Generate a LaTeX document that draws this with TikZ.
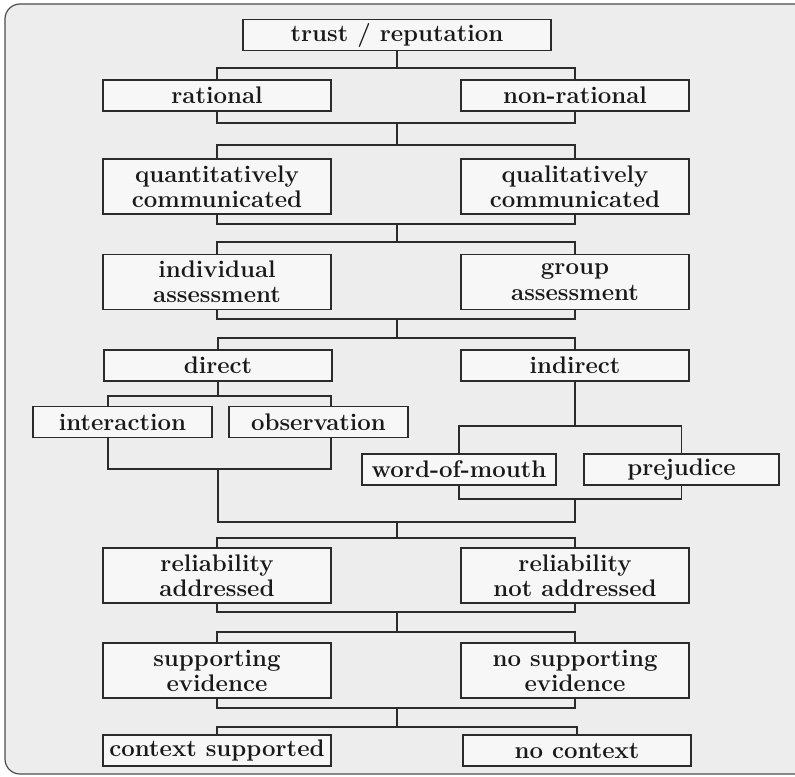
\documentclass[tikz,border=0pt]{standalone}
\usepackage{tikz}
\usetikzlibrary{positioning}

\definecolor{panelbg}{HTML}{EDEDED}
\definecolor{boxbg}{HTML}{F7F7F7}
\definecolor{linecol}{HTML}{2B2B2B}

\begin{document}
\begin{tikzpicture}[
  x=0.5pt, y=-0.5pt,
  category/.style={
    draw=linecol,
    fill=boxbg,
    line width=0.6pt,
    minimum width=114pt,
    minimum height=15.5pt,
    inner sep=0pt,
    align=center,
    text=black!90,
    font=\fontsize{12}{12.6}\selectfont\bfseries
  },
  twoline/.style={category,minimum height=27.5pt},
  leaf/.style={category,minimum width=89.5pt},
  link/.style={draw=linecol,line width=0.6pt}
]
  \useasboundingbox (0,0) rectangle (795,776);
  \begin{scope}
    \clip (0,0) rectangle (795,776);
    \draw[fill=panelbg,draw=black!70,line width=0.6pt,rounded corners=7.5pt]
      (5,4) rectangle (812,774);
  \end{scope}

  % levels
  \node[category,minimum width=154pt] (trust) at (397,35) {trust / reputation};
  \node[category] (rational) at (217,95.5) {rational};
  \node[category] (nonrational) at (575,95.5) {non-rational};

  \node[twoline] (quant) at (217,186.5) {quantitatively\\communicated};
  \node[twoline] (qual) at (575,186.5) {qualitatively\\communicated};

  \node[twoline] (individual) at (217,282) {individual\\assessment};
  \node[twoline] (group) at (575,282) {group\\assessment};

  \node[category] (direct) at (218,365.5) {direct};
  \node[category] (indirect) at (575,365.5) {indirect};

  \node[leaf] (interaction) at (122.5,422) {interaction};
  \node[leaf] (observation) at (318.5,422) {observation};
  \node[category,minimum width=97pt] (wordofmouth) at (459,469.5) {word-of-mouth};
  \node[category,minimum width=97.5pt] (prejudice) at (681.5,469.5) {prejudice};

  \node[twoline] (reladdr) at (217,575.5) {reliability\\addressed};
  \node[twoline] (relnot) at (575,575.5) {reliability\\not addressed};

  \node[twoline] (support) at (217,670.5) {supporting\\evidence};
  \node[twoline] (nosupport) at (575,670.5) {no supporting\\evidence};

  \node[category] (context) at (217,750.5) {context supported};
  \node[category] (nocontext) at (577,750.5) {no context};

  % junction points
  \coordinate (s1) at (397,68);
  \coordinate (m1) at (397,123);
  \coordinate (s2) at (397,145);
  \coordinate (m2) at (397,224);
  \coordinate (s3) at (397,242);
  \coordinate (m3) at (397,319);
  \coordinate (s4) at (397,338);
  \coordinate (d1) at (218,396);
  \coordinate (ia) at (108,396);
  \coordinate (ob) at (331,396);
  \coordinate (d2) at (218,469);
  \coordinate (i1) at (575,426);
  \coordinate (i2) at (575,499);
  \coordinate (m5) at (397,522);
  \coordinate (s5) at (397,538);
  \coordinate (m6) at (397,612);
  \coordinate (s6) at (397,632);
  \coordinate (m7) at (397,708);
  \coordinate (s7) at (397,727);

  % connectors
  \draw[link] (trust) -- (s1);
  \draw[link] (rational.north) |- (s1) -| (nonrational.north);
  \draw[link] (rational.south) |- (m1) -| (nonrational.south);
  \draw[link] (m1) -- (s2);
  \draw[link] (quant.north) |- (s2) -| (qual.north);
  \draw[link] (quant.south) |- (m2) -| (qual.south);
  \draw[link] (m2) -- (s3);
  \draw[link] (individual.north) |- (s3) -| (group.north);
  \draw[link] (individual.south) |- (m3) -| (group.south);
  \draw[link] (m3) -- (s4);
  \draw[link] (direct.north) |- (s4) -| (indirect.north);

  \draw[link] (direct.south) -- (d1);
  \draw[link] (ia |- interaction.north) -- (ia) -- (ob) -- (ob |- observation.north);
  \draw[link] (ia |- interaction.south) |- (d2) -| (ob |- observation.south);
  \draw[link] (indirect.south) -- (i1);
  \draw[link] (wordofmouth.north) |- (i1) -| (prejudice.north);
  \draw[link] (wordofmouth.south) |- (i2) -| (prejudice.south);
  \draw[link] (d2) |- (m5) -| (i2);

  \draw[link] (m5) -- (s5);
  \draw[link] (reladdr.north) |- (s5) -| (relnot.north);
  \draw[link] (reladdr.south) |- (m6) -| (relnot.south);
  \draw[link] (m6) -- (s6);
  \draw[link] (support.north) |- (s6) -| (nosupport.north);
  \draw[link] (support.south) |- (m7) -| (nosupport.south);
  \draw[link] (m7) -- (s7);
  \draw[link] (context.north) |- (s7) -| (nocontext.north);
\end{tikzpicture}
\end{document}
